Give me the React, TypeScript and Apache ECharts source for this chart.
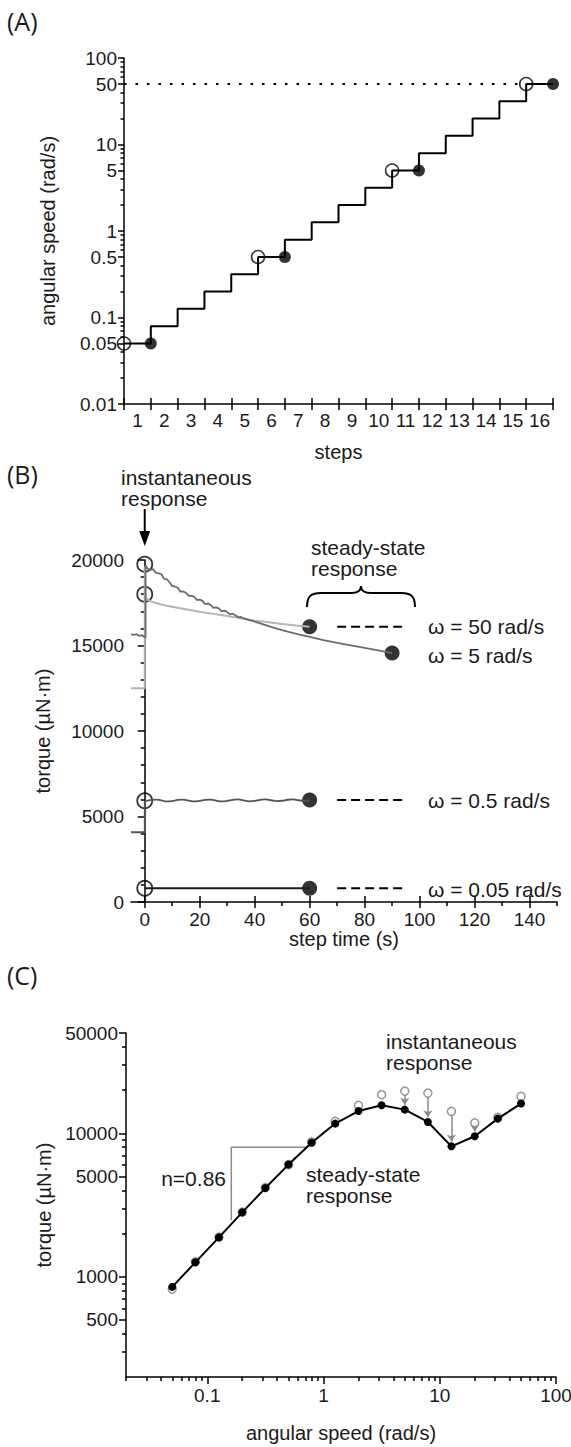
import React, { useEffect, useRef } from "react";
import * as echarts from "echarts";

// ---------------- data ----------------
// Panel A: speed steps
const stepLabels = ["1","2","3","4","5","6","7","8","9","10","11","12","13","14","15","16"];
const speeds = [0.05, 0.079, 0.126, 0.2, 0.316, 0.5, 0.79, 1.26, 2, 3.16, 5, 7.9, 12.6, 20, 31.6, 50];
const markedSteps = [0, 5, 10, 15];
const targetSpeed = 50;
const aMajorTicks = [0.01, 0.05, 0.1, 0.5, 1, 5, 10, 50, 100];
const aMinorTicks = [0.02,0.03,0.04,0.06,0.07,0.08,0.09,0.2,0.3,0.4,0.6,0.7,0.8,0.9,2,3,4,6,7,8,9,20,30,40,60,70,80,90];

// Panel B: torque traces
const bTimeTicks = [0, 20, 40, 60, 80, 100, 120, 140];
const bTimeMinor = [10, 30, 50, 70, 90, 110, 130, 150];
const bTorqueTicks = [0, 5000, 10000, 15000, 20000];
const bTorqueMinor = [1000,2000,3000,4000,6000,7000,8000,9000,11000,12000,13000,14000,16000,17000,18000,19000];

const w50Trace = [[-5,12500],[0,12500],[0,19600],[0.3,17800],[1,17700],[2,17600],[4,17480],[6,17400],[8,17330],[10,17270],[15,17120],[20,16980],[25,16850],[30,16720],[35,16590],[40,16460],[45,16360],[50,16260],[55,16170],[60,16100]];
const w5Trace = [[-5,15650],[-4,15620],[-3,15660],[-2,15560],[-1,15600],[0,15480],[0.3,15480],[0.3,19700],[1,19500],[2,19420],[3,19470],[4,19260],[5,19220],[6,19180],[7,18900],[8,18880],[9,18700],[10,18480],[11,18450],[12,18380],[13,18150],[14,18160],[15,18080],[16,17900],[17,17920],[18,17840],[19,17660],[20,17680],[21,17610],[22,17420],[23,17450],[24,17370],[25,17200],[26,17230],[27,17160],[28,16990],[29,17040],[30,16960],[31,16820],[32,16860],[33,16770],[34,16650],[35,16670],[36,16580],[38,16480],[40,16390],[44,16190],[48,15990],[52,15810],[56,15650],[60,15500],[65,15320],[70,15160],[75,15010],[80,14860],[85,14710],[90,14560]];
const w05Step = [[-5,4080],[0,4080],[0,5900]];
const w05Trace = [[0,5900],[2,5960],[4,5990],[6,5940],[8,5880],[10,5900],[12,5970],[14,5990],[16,5930],[18,5880],[20,5910],[22,5970],[24,5990],[26,5930],[28,5880],[30,5910],[32,5970],[34,6000],[36,5940],[38,5890],[40,5910],[42,5970],[44,6000],[46,5950],[48,5900],[50,5920],[52,5980],[54,6000],[56,5950],[58,5920],[60,5950]];
const w005Trace = [[0,800],[60,800]];
const bInstant = [[0,19750],[0,18000],[0,5920],[0,800]];
const bSteady = [[60,16100],[90,14560],[60,5960],[60,800]];
const dashTimes = [70, 95];
const dashTorques = [16100, 5960, 800];
const omegaLabels = ["ω = 50 rad/s", "ω = 5 rad/s", "ω = 0.5 rad/s", "ω = 0.05 rad/s"];

// Panel C: torque vs angular speed
const cXMajor = [0.1, 1, 10, 100];
const cXMinor = [0.02,0.03,0.04,0.05,0.06,0.07,0.08,0.09,0.2,0.3,0.4,0.5,0.6,0.7,0.8,0.9,2,3,4,5,6,7,8,9,20,30,40,50,60,70,80,90];
const cYMajor = [500, 1000, 5000, 10000, 50000];
const cYMinor = [300,400,600,700,800,900,2000,3000,4000,6000,7000,8000,9000,20000,30000,40000];
const cSteady = [850, 1260, 1880, 2810, 4150, 6050, 8600, 11680, 14290, 15660, 14620, 11990, 8110, 9530, 12650, 16110];
const cInstant = [820, 1270, 1890, 2820, 4180, 6050, 8700, 12100, 15660, 18570, 19680, 19050, 14220, 11810, 12900, 18070];
const cArrowSteps = [10, 11, 12, 13];
const slopeX = [0.161, 0.73];
const slopeY = [2480, 7990];

// ---------------- layout / style ----------------
const FONT = "'Liberation Sans', Arial, sans-serif";
const TXT = "#1a1a1a";
const GA = { left: 124, top: 58, width: 429, height: 346 };
const GB = { left: 131, top: 560, width: 426, height: 342 };
const GC = { left: 126, top: 1033, width: 430, height: 344 };
const TICK_FS = 19;
const NAME_FS = 20;
const ANN_FS = 21;

const fmt = (v: any) => String(parseFloat(Number(v).toPrecision(4)));
const lineSt = { color: "#000", width: 1.5 };
const lbl = { fontSize: TICK_FS, color: TXT, fontFamily: FONT, formatter: fmt };
const nameSt = { fontSize: NAME_FS, color: TXT, fontFamily: FONT };

function mainAxis(extra: any) {
  return {
    axisLine: { show: true, lineStyle: lineSt },
    splitLine: { show: false },
    nameLocation: "middle",
    nameTextStyle: nameSt,
    nameMoveOverlap: false,
    ...extra,
  };
}
function tickOnly(extra: any, ticks: number[], len: number, inside = false) {
  return {
    axisLine: { show: false },
    splitLine: { show: false },
    axisLabel: { show: false },
    axisTick: { show: true, inside, length: len, customValues: ticks, lineStyle: lineSt },
    ...extra,
  };
}

function buildOption() {
  const stepPts: number[][] = [];
  speeds.forEach((v, i) => { stepPts.push([i, v]); stepPts.push([i + 1, v]); });
  const aOpen = markedSteps.map((i) => [i, speeds[i]]);
  const aFilled = markedSteps.map((i) => [i + 1, speeds[i]]);

  const grids = [GA, GA, GA, GB, GB, GB, GC, GC].map((g) => ({ ...g, containLabel: false, outerBoundsMode: "none" }));

  const xAxis: any[] = [
    mainAxis({ gridIndex: 0, type: "value", min: 0, max: 16, interval: 1,
      axisTick: { show: true, length: 6, lineStyle: lineSt }, axisLabel: { show: false } }),
    { gridIndex: 1, type: "category", data: stepLabels, boundaryGap: true,
      axisLine: { show: false }, axisTick: { show: false }, splitLine: { show: false },
      axisLabel: { interval: 0, margin: 7, fontSize: TICK_FS, color: TXT, fontFamily: FONT },
      name: "steps", nameLocation: "middle", nameGap: 38, nameTextStyle: nameSt, nameMoveOverlap: false },
    { gridIndex: 2, type: "value", min: 0, max: 16, interval: 1,
      axisLine: { show: false }, splitLine: { show: false }, axisLabel: { show: false },
      axisTick: { show: true, inside: true, length: 6, lineStyle: lineSt } },
    mainAxis({ gridIndex: 3, type: "value", min: -5, max: 150,
      axisTick: { show: true, length: 6, customValues: bTimeTicks, lineStyle: lineSt },
      axisLabel: { ...lbl, margin: 8, customValues: bTimeTicks },
      name: "step time (s)", nameGap: 27 }),
    tickOnly({ gridIndex: 4, type: "value", min: -5, max: 150 }, bTimeMinor, 4),
    tickOnly({ gridIndex: 5, type: "value", min: -5, max: 150 }, bTimeTicks, 6, true),
    mainAxis({ gridIndex: 6, type: "log", min: 0.02, max: 100,
      axisTick: { show: true, length: 7, customValues: cXMajor, lineStyle: lineSt },
      axisLabel: { ...lbl, margin: 9, customValues: cXMajor },
      name: "angular speed (rad/s)", nameGap: 46 }),
    tickOnly({ gridIndex: 7, type: "log", min: 0.02, max: 100 }, cXMinor, 4),
  ];

  const yAxis: any[] = [
    mainAxis({ gridIndex: 0, type: "log", min: 0.01, max: 100,
      axisTick: { show: true, length: 6, customValues: aMajorTicks, lineStyle: lineSt },
      axisLabel: { ...lbl, margin: 7, customValues: aMajorTicks },
      name: "angular speed (rad/s)", nameGap: 66 }),
    tickOnly({ gridIndex: 1, type: "log", min: 0.01, max: 100 }, aMinorTicks, 3.5),
    { gridIndex: 2, type: "value", show: false },
    mainAxis({ gridIndex: 3, type: "value", min: 0, max: 20000,
      axisTick: { show: true, length: 7, customValues: bTorqueTicks, lineStyle: lineSt },
      axisLabel: { ...lbl, margin: 7, customValues: bTorqueTicks },
      name: "torque (µN·m)", nameGap: 78 }),
    tickOnly({ gridIndex: 4, type: "value", min: 0, max: 20000 }, bTorqueMinor, 4),
    { gridIndex: 5, type: "value", show: false },
    mainAxis({ gridIndex: 6, type: "log", min: 200, max: 50000,
      axisTick: { show: true, length: 7, customValues: cYMajor, lineStyle: lineSt },
      axisLabel: { ...lbl, margin: 8, customValues: cYMajor },
      name: "torque (µN·m)", nameGap: 72 }),
    tickOnly({ gridIndex: 7, type: "log", min: 200, max: 50000 }, cYMinor, 4),
  ];

  const openSym = (size: number, color: string, bw: number, fill = "rgba(0,0,0,0)") => ({
    type: "scatter", symbol: "circle", symbolSize: size, clip: false, silent: true,
    itemStyle: { color: fill, borderColor: color, borderWidth: bw },
  });
  const filledSym = (size: number) => ({
    type: "scatter", symbol: "circle", symbolSize: size, clip: false, silent: true,
    itemStyle: { color: "#000", borderWidth: 0 },
  });
  const line = (color: string, width: number, extra: any = {}) => ({
    type: "line", showSymbol: false, symbol: "none", clip: false, silent: true,
    lineStyle: { color, width }, ...extra,
  });

  const series: any[] = [
    // ---- A ----
    { ...line("#000", 2, { lineStyle: { color: "#000", width: 2, type: [2.5, 9] } }), xAxisIndex: 0, yAxisIndex: 0,
      data: [[0, targetSpeed], [markedSteps[3], targetSpeed]] },
    { ...line("#000", 2), xAxisIndex: 0, yAxisIndex: 0, data: stepPts },
    { ...openSym(13, "#000", 1.6), xAxisIndex: 0, yAxisIndex: 0, data: aOpen },
    { ...filledSym(12), xAxisIndex: 0, yAxisIndex: 0, data: aFilled },
    // ---- B ----
    { ...line("#b4b4b4", 2), xAxisIndex: 3, yAxisIndex: 3, data: w50Trace },
    { ...line("#6c6c6c", 1.8), xAxisIndex: 3, yAxisIndex: 3, data: w5Trace },
    { ...line("#555", 1.8), xAxisIndex: 3, yAxisIndex: 3, data: w05Step },
    { ...line("#555", 1.8, { smooth: 0.5 }), xAxisIndex: 3, yAxisIndex: 3, data: w05Trace },
    { ...line("#1a1a1a", 2), xAxisIndex: 3, yAxisIndex: 3, data: w005Trace },
    ...dashTorques.map((v) => ({
      ...line("#000", 2, { lineStyle: { color: "#000", width: 2, type: [9, 5] } }),
      xAxisIndex: 3, yAxisIndex: 3, data: dashTimes.map((t) => [t, v]),
    })),
    { ...openSym(15, "#000", 1.8), xAxisIndex: 3, yAxisIndex: 3, data: bInstant },
    { ...filledSym(15), xAxisIndex: 3, yAxisIndex: 3, data: bSteady },
    // ---- C ----
    { ...line("#8a8a8a", 1.5), xAxisIndex: 6, yAxisIndex: 6,
      data: [[slopeX[0], slopeY[0]], [slopeX[0], slopeY[1]], [slopeX[1], slopeY[1]]] },
    { ...openSym(8, "#7a7a7a", 1.5, "#fff"), xAxisIndex: 6, yAxisIndex: 6,
      data: speeds.map((s, i) => [s, cInstant[i]]),
      markLine: {
        silent: true, symbol: ["none", "arrow"], symbolSize: 7, animation: false,
        label: { show: false }, lineStyle: { color: "#8a8a8a", width: 1.5, type: "solid" },
        data: cArrowSteps.map((i) => [
          { coord: [speeds[i], cInstant[i] * 0.94] },
          { coord: [speeds[i], cSteady[i] * 1.08] },
        ]),
      } },
    { type: "line", xAxisIndex: 6, yAxisIndex: 6, clip: false, silent: true,
      symbol: "circle", symbolSize: 8, showSymbol: true,
      lineStyle: { color: "#000", width: 2 }, itemStyle: { color: "#000" },
      data: speeds.map((s, i) => [s, cSteady[i]]) },
  ];

  // annotation positions
  const x0B = GB.left + ((0 - -5) / 155) * GB.width;
  const annFont = `${ANN_FS}px ${FONT}`;
  const txt = (text: string, x: number, y: number, opts: any = {}) => ({
    type: "text", x, y, silent: true,
    style: { text, fill: TXT, font: opts.font || annFont, align: opts.align || "left", textAlign: opts.align || "left",
      verticalAlign: "middle", textVerticalAlign: "middle" },
  });
  const twoLines = (a: string, b: string, x: number, yTop: number) => [
    txt(a, x, yTop + 10), txt(b, x, yTop + 31.5),
  ];
  const panelFont = `25px 'Open Sans', ${FONT}`;
  const omegaY = [626, 655, 800, 889];

  const graphic: any[] = [
    txt("(A)", 7, 21, { font: panelFont }),
    txt("(B)", 7, 474, { font: panelFont }),
    txt("(C)", 7, 975, { font: panelFont }),
    ...twoLines("instantaneous", "response", 121, 467),
    { type: "line", silent: true, shape: { x1: x0B, y1: 509, x2: x0B, y2: 536 }, style: { stroke: "#000", lineWidth: 2 } },
    { type: "polygon", silent: true, shape: { points: [[x0B - 5.5, 531], [x0B + 5.5, 531], [x0B, 546]] }, style: { fill: "#000" } },
    ...twoLines("steady-state", "response", 311, 537),
    { type: "brace", x: 307, y: 586, silent: true, style: { fill: "none", stroke: "#000", lineWidth: 2 } },
    ...omegaLabels.map((s, i) => txt(s, 428, omegaY[i])),
    ...twoLines("instantaneous", "response", 386, 1031),
    ...twoLines("steady-state", "response", 306, 1164),
    txt("n=0.86", 226, 1178, { align: "right" }),
  ];

  return {
    animation: false,
    backgroundColor: "#fff",
    textStyle: { fontFamily: FONT },
    grid: grids,
    xAxis,
    yAxis,
    series,
    graphic,
  };
}

let braceRegistered = false;
function registerBrace() {
  if (braceRegistered) return;
  braceRegistered = true;
  const d = "M0 21 C0 10 4 7 14 7 L44 7 C51 7 54 4 54 0 C54 4 57 7 64 7 L94 7 C104 7 108 10 108 21";
  echarts.graphic.registerShape("brace", echarts.graphic.extendPath(d, {}) as any);
}

export default function App() {
  const ref = useRef<HTMLDivElement>(null);
  useEffect(() => {
    if (!ref.current) return;
    registerBrace();
    const chart = echarts.init(ref.current, null, { renderer: "svg" });
    chart.setOption(buildOption() as any);
    return () => chart.dispose();
  }, []);
  return (
    <div
      ref={ref}
      style={{ position: "absolute", left: 0, top: 0, width: 571, height: 1447, background: "#fff" }}
    />
  );
}
